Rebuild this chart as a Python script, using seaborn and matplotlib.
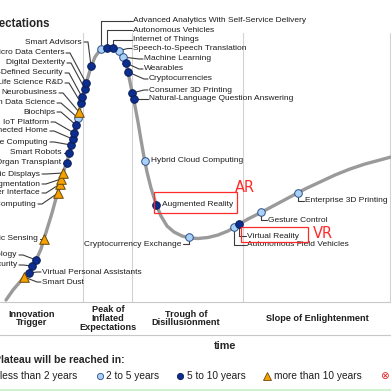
import pandas as pd
import matplotlib
matplotlib.use('Agg')
import matplotlib.pyplot as plt
import seaborn as sns

# hype curve (x = time, y = expectations in screen units)
curve_x = [6, 13, 19, 24, 29, 33, 37, 41, 44, 48, 52, 55, 58, 60, 62, 64, 67, 69, 71, 73, 75, 77, 79, 81,
           83, 86, 88, 91, 95, 100, 104, 108, 112, 117, 121, 124, 127, 129, 131, 133, 135, 138, 141, 144,
           147, 151, 156, 161, 167, 174, 182, 190, 198, 208, 218, 228, 238, 248, 260, 275, 290, 305, 320,
           335, 350, 365, 380, 391]
curve_y = [300, 290, 283, 277, 272, 265, 258, 249, 239, 226, 213, 202, 192, 184, 176, 170, 162, 154, 146,
           137, 129, 121, 112, 103, 94, 84, 77, 67, 57, 50, 47.5, 46.5, 47, 49, 53, 59, 67, 77, 87, 96, 106,
           122, 140, 157, 172, 188, 204, 216, 226, 232, 236, 238, 238.5, 237.5, 235, 231, 225, 219, 213, 205,
           197, 189, 182, 175, 169, 164, 160, 157]

tech_names = ['Virtual Personal Assistants', 'Smart Dust', 'Digital Security', 'People-Literate Technology',
              'Bioacoustic Sensing', 'Quantum Computing', 'Brain-Computer Interface', 'Human Augmentation',
              'Volumetric and Holographic Displays', '3D Bioprinted Organ Transplant', 'Smart Robots',
              'Affective Computing', 'Connected Home', 'IoT Platform', 'Biochips', 'Citizen Data Science',
              'Neurobusiness', '3D Bioprinting Systems for Life Science R&D', 'Software-Defined Security',
              'Digital Dexterity', 'Micro Data Centers', 'Smart Advisors',
              'Advanced Analytics With Self-Service Delivery', 'Autonomous Vehicles', 'Internet of Things',
              'Speech-to-Speech Translation', 'Machine Learning', 'Wearables', 'Cryptocurrencies',
              'Consumer 3D Printing', 'Natural-Language Question Answering', 'Hybrid Cloud Computing',
              'Augmented Reality', 'Cryptocurrency Exchange', 'Virtual Reality', 'Autonomous Field Vehicles',
              'Gesture Control', 'Enterprise 3D Printing']
tech_x = [29, 24, 32, 36, 44, 58, 60, 61, 63, 67, 69, 71, 72.5, 74, 76, 78, 79, 81, 82, 85, 86, 91,
          100.5, 107, 113, 119, 123, 126, 128, 132, 134, 145, 156, 189, 239, 234, 261, 298]
tech_y = [273, 277, 266, 260, 239, 193, 184, 179, 173, 163, 153, 145, 139, 133, 125, 118, 112, 103, 97,
          89, 83, 66, 49, 48, 48, 50.5, 57, 63, 72, 93, 99, 161, 205, 237, 224, 227, 212, 193]
tech_years = ['5-10', '>10', '5-10', '5-10', '>10', '>10', '>10', '>10', '>10', '5-10', '5-10', '5-10',
              '5-10', '5-10', '5-10', '2-5', '>10', '5-10', '5-10', '5-10', '5-10', '5-10',
              '2-5', '5-10', '5-10', '2-5', '2-5', '5-10', '5-10', '5-10', '5-10', '2-5',
              '5-10', '2-5', '5-10', '2-5', '2-5', '2-5']

# where each label sits and how its leader line is drawn
label_x = [42, 42, 17, 17, 38, 36, 40, 40, 40, 61, 62, 48, 48, 49, 55, 55, 57, 63, 63, 65, 64, 82,
           133, 133, 133, 133, 144, 144, 149, 149, 149, 151, 162, 181, 247, 247, 268, 305]
label_y = [272, 282, 265, 255, 239, 204, 193, 184, 174, 163, 153, 142, 131, 122, 112, 103, 93, 83, 73,
           63, 53, 42, 21, 30, 39.5, 48.5, 59, 69, 79, 90, 99, 161, 204, 244, 236, 245, 220, 201]
label_kind = ['R', 'R', 'L', 'L', 'L', 'L', 'L', 'L', 'L', 'L', 'L', 'L', 'L', 'L', 'L', 'L', 'L', 'L',
              'L', 'L', 'L', 'L', 'V', 'V', 'V', 'R', 'R', 'R', 'R', 'R', 'R', 'N', 'N', 'V', 'V', 'V',
              'V', 'V']

phases = ['Innovation\nTrigger', 'Peak of\nInflated\nExpectations', 'Trough of\nDisillusionment',
          'Slope of Enlightenment']
phase_x = [32, 108, 186, 317]

legend_labels = ['less than 2 years', '2 to 5 years', '5 to 10 years', 'more than 10 years']

df = pd.DataFrame({'name': tech_names, 'x': tech_x, 'y': tech_y, 'years': tech_years})

colors = {'2-5': '#a9d1f5', '5-10': '#0b2e8f', '>10': '#f5a100'}
edges = {'2-5': '#2d4f8a', '5-10': '#0a1c55', '>10': '#6b4a10'}
markers = {'2-5': 'o', '5-10': 'o', '>10': '^'}
msize = {'2-5': 30, '5-10': 30, '>10': 48}

sns.set_style('white')
plt.rcParams['font.family'] = ['Liberation Sans', 'DejaVu Sans']

fig = plt.figure(figsize=(3.91, 3.91), dpi=100)
ax = fig.add_axes([0, 0, 1, 1])
ax.set_xlim(0, 391)
ax.set_ylim(391, 0)
ax.axis('off')

# grid of phases
for gx in [83, 132, 243, 390]:
    ax.plot([gx, gx], [33, 302], color='#d2d2d2', lw=0.8, zorder=0)
for gy in [302, 334.5]:
    ax.plot([0, 391], [gy, gy], color='#c8c8c8', lw=0.8, zorder=0)
ax.plot([0, 391], [389.5, 389.5], color='#c6efc6', lw=1.2, zorder=0)

sns.lineplot(x=curve_x, y=curve_y, sort=False, color='#9a9a9a', lw=2.4, ax=ax, zorder=1)

# leader lines
for i in range(len(tech_names)):
    dx, dy, lx, ly, k = tech_x[i], tech_y[i], label_x[i], label_y[i], label_kind[i]
    if k == 'L':
        xs, ys = [lx + 2, lx + 6, dx], [ly, ly, dy]
    elif k == 'R':
        xs, ys = [dx, lx - 5, lx - 1], [dy, ly, ly]
    elif k == 'V':
        end = lx - 1 if lx > dx else lx + 2
        xs, ys = [dx, dx, end], [dy, ly, ly]
    else:
        continue
    ax.plot(xs, ys, color='#3c3c3c', lw=0.8, zorder=2)

for yr in ['2-5', '5-10', '>10']:
    sub = df[df['years'] == yr]
    sns.scatterplot(data=sub, x='x', y='y', marker=markers[yr], s=msize[yr], color=colors[yr],
                    edgecolor=edges[yr], linewidth=0.7, ax=ax, zorder=3, legend=False)

for i, name in enumerate(tech_names):
    lx = label_x[i]
    if label_kind[i] == 'L' or (label_kind[i] == 'V' and lx < tech_x[i]):
        ha = 'right'
    else:
        ha = 'left'
    ax.text(lx, label_y[i], name, ha=ha, va='center', fontsize=6, color='#1e1e1e')

ax.text(50.5, 24, 'expectations', ha='right', va='center', fontsize=8.3, fontweight='bold')
for p, px in zip(phases, phase_x):
    ax.text(px, 318.5, p, ha='center', va='center', fontsize=6.6, fontweight='bold',
            color='#1e1e1e', linespacing=0.95)
ax.text(225, 346, 'time', ha='center', va='center', fontsize=7.8, fontweight='bold')
ax.text(-6, 360, 'Plateau will be reached in:', ha='left', va='center', fontsize=7.5, fontweight='bold')

# legend row
ax.text(-9, 376, '\u25cb ' + legend_labels[0], ha='left', va='center', fontsize=7.3, color='#1e1e1e')
ax.plot(100, 376, 'o', ms=4.5, mfc=colors['2-5'], mec=edges['2-5'], mew=0.6)
ax.text(106, 376, legend_labels[1], ha='left', va='center', fontsize=7.3, color='#1e1e1e')
ax.plot(180, 376, 'o', ms=4.5, mfc=colors['5-10'], mec=edges['5-10'], mew=0.6)
ax.text(187, 376, legend_labels[2], ha='left', va='center', fontsize=7.3, color='#1e1e1e')
ax.plot(267, 375.5, '^', ms=5.5, mfc=colors['>10'], mec=edges['>10'], mew=0.6)
ax.text(274, 376, legend_labels[3], ha='left', va='center', fontsize=7.3, color='#1e1e1e')
ax.text(384, 376, '\u2297', ha='center', va='center', fontsize=7.5, color='#e02020',
        family='DejaVu Sans')

# red highlight boxes
ax.add_patch(plt.Rectangle((154, 192), 83, 21, fill=False, ec='#ff2a2a', lw=0.9, zorder=4))
ax.add_patch(plt.Rectangle((241, 227), 67, 15, fill=False, ec='#ff2a2a', lw=0.9, zorder=4))
ax.text(245, 187, 'AR', ha='center', va='center', fontsize=10.5, color='#ff2a2a', family='DejaVu Sans')
ax.text(323, 233, 'VR', ha='center', va='center', fontsize=10.5, color='#ff2a2a', family='DejaVu Sans')

fig.savefig('out.png', dpi=100)
